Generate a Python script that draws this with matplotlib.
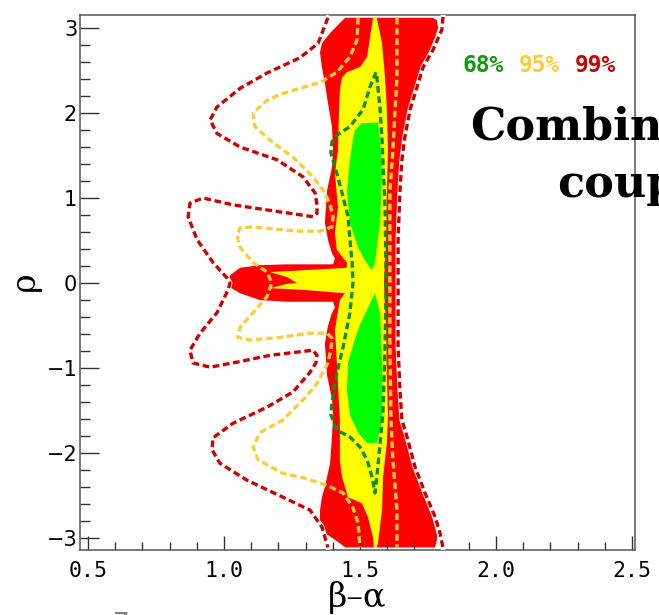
import matplotlib.pyplot as plt
from matplotlib.ticker import MultipleLocator

# contour outlines (beta-alpha, rho)
red_fill_x = [1.445, 1.390, 1.360, 1.353, 1.360, 1.371, 1.382, 1.397, 1.401, 1.397, 1.379, 1.371,
              1.382, 1.397, 1.408, 1.401, 1.232, 1.132, 1.059, 1.022, 1.015, 1.022, 1.059, 1.132,
              1.232, 1.401, 1.408, 1.397, 1.382, 1.371, 1.379, 1.397, 1.401, 1.397, 1.390, 1.371,
              1.360, 1.353, 1.353, 1.371, 1.426, 1.445, 1.776, 1.783, 1.783, 1.765, 1.732, 1.695,
              1.673, 1.654, 1.640, 1.636, 1.636, 1.636, 1.640, 1.647, 1.658, 1.676, 1.695, 1.721,
              1.746, 1.776, 1.787, 1.783, 1.768]
red_fill_y = [3.12, 2.94, 2.82, 2.71, 2.54, 2.35, 2.12, 1.84, 1.56, 1.36, 1.09, 0.71,
              0.51, 0.35, 0.29, 0.22, 0.22, 0.21, 0.18, 0.09, 0.02, -0.05, -0.12, -0.20,
              -0.22, -0.22, -0.29, -0.35, -0.51, -0.71, -1.09, -1.36, -1.56, -1.81, -2.12, -2.40,
              -2.52, -2.67, -2.79, -2.94, -3.06, -3.11, -3.11, -3.02, -2.96, -2.75, -2.47, -2.16,
              -1.81, -1.61, -1.26, -0.75, 0.00, 0.59, 1.09, 1.48, 1.65, 1.92, 2.15, 2.42,
              2.66, 2.89, 3.00, 3.09, 3.12]

yellow_fill_x = [1.548, 1.562, 1.581, 1.592, 1.599, 1.603, 1.599, 1.596, 1.592, 1.588, 1.592, 1.596,
                 1.599, 1.603, 1.599, 1.585, 1.581, 1.566, 1.562, 1.551, 1.548, 1.529, 1.507, 1.456,
                 1.434, 1.426, 1.426, 1.415, 1.408, 1.426, 1.445, 1.290, 1.169, 1.232, 1.268, 1.232,
                 1.169, 1.290, 1.452, 1.452, 1.415, 1.408, 1.419, 1.408, 1.419, 1.423, 1.426, 1.434,
                 1.452, 1.500, 1.526, 1.537]
yellow_fill_y = [3.12, 3.12, 2.82, 2.42, 2.04, 1.56, 1.09, 0.51, 0.25, 0.00, -0.26, -0.51,
                 -1.09, -1.56, -1.88, -2.28, -2.67, -3.06, -3.11, -3.11, -2.99, -2.75, -2.59, -2.52,
                 -2.28, -2.08, -1.61, -0.94, -0.55, -0.20, -0.12, -0.08, -0.06, -0.01, 0.00, 0.07,
                 0.13, 0.15, 0.18, 0.24, 0.39, 0.59, 0.89, 1.29, 1.56, 2.04, 2.27, 2.42,
                 2.48, 2.54, 2.66, 2.89]

green_up_x = [1.482, 1.507, 1.566, 1.574, 1.581, 1.577, 1.574, 1.555, 1.544, 1.518, 1.493, 1.463,
              1.452, 1.463, 1.474]
green_up_y = [1.80, 1.88, 1.89, 1.68, 1.29, 0.98, 0.71, 0.24, 0.15, 0.27, 0.42, 0.71,
              1.09, 1.45, 1.68]
green_lo_x = [1.555, 1.574, 1.581, 1.581, 1.562, 1.526, 1.493, 1.463, 1.452, 1.456, 1.482, 1.500]
green_lo_y = [-0.12, -0.35, -0.94, -1.61, -1.88, -1.88, -1.76, -1.55, -1.26, -0.94, -0.65, -0.49]

c99_left_x = [1.382, 1.346, 1.279, 1.158, 1.059, 0.974, 0.949, 0.974, 1.059, 1.195, 1.290, 1.335,
              1.342, 1.342, 1.327, 1.158, 1.033, 0.923, 0.875, 0.868, 0.901, 0.960, 1.011, 1.022,
              1.015, 0.974, 0.912, 0.875, 0.886, 0.949, 1.048, 1.169, 1.327, 1.342, 1.338, 1.316,
              1.254, 1.158, 1.033, 0.960, 0.956, 0.985, 1.085, 1.217, 1.316, 1.360, 1.382]
c99_left_y = [3.12, 2.82, 2.65, 2.47, 2.29, 2.07, 1.92, 1.76, 1.60, 1.45, 1.25, 1.06,
              0.92, 0.82, 0.78, 0.86, 0.92, 1.00, 0.94, 0.78, 0.51, 0.24, 0.06, 0.00,
              -0.08, -0.35, -0.59, -0.79, -0.94, -0.99, -0.93, -0.85, -0.79, -0.85, -0.94, -1.05,
              -1.28, -1.46, -1.65, -1.82, -1.96, -2.12, -2.32, -2.52, -2.67, -2.87, -3.11]
c99_right_x = [1.805, 1.801, 1.768, 1.732, 1.710, 1.684, 1.665, 1.654, 1.647, 1.640, 1.640, 1.640,
               1.647, 1.654, 1.673, 1.702, 1.739, 1.776, 1.794, 1.805]
c99_right_y = [3.13, 2.98, 2.74, 2.54, 2.31, 2.04, 1.72, 1.45, 1.09, 0.51, 0.00, -0.75,
               -1.26, -1.61, -1.81, -2.16, -2.47, -2.75, -2.94, -3.11]

c95_left_x = [1.493, 1.489, 1.463, 1.415, 1.353, 1.279, 1.206, 1.158, 1.107, 1.114, 1.169, 1.254,
              1.327, 1.371, 1.390, 1.401, 1.397, 1.353, 1.279, 1.169, 1.107, 1.059, 1.048, 1.059,
              1.107, 1.158, 1.176, 1.158, 1.107, 1.059, 1.051, 1.096, 1.206, 1.316, 1.379, 1.397,
              1.393, 1.382, 1.342, 1.298, 1.217, 1.132, 1.107, 1.125, 1.217, 1.290, 1.379, 1.438,
              1.474, 1.493, 1.500]
c95_left_y = [3.12, 2.86, 2.66, 2.48, 2.36, 2.29, 2.22, 2.15, 2.00, 1.84, 1.68, 1.48,
              1.25, 1.06, 0.92, 0.78, 0.66, 0.61, 0.61, 0.64, 0.66, 0.65, 0.56, 0.42,
              0.24, 0.13, 0.00, -0.16, -0.35, -0.52, -0.64, -0.67, -0.64, -0.59, -0.59, -0.65,
              -0.79, -0.94, -1.18, -1.35, -1.61, -1.76, -1.93, -2.08, -2.24, -2.29, -2.38, -2.47,
              -2.64, -2.82, -3.11]
c95_right_x = [1.636, 1.636, 1.629, 1.621, 1.610, 1.610, 1.610, 1.614, 1.621, 1.636, 1.636]
c95_right_y = [3.12, 2.42, 2.04, 1.56, 1.09, 0.00, -0.75, -1.61, -2.08, -2.67, -3.11]

c68_x = [1.559, 1.537, 1.511, 1.463, 1.415, 1.397, 1.393, 1.415, 1.438, 1.456, 1.463, 1.471,
         1.474, 1.463, 1.438, 1.415, 1.397, 1.393, 1.415, 1.463, 1.500, 1.526, 1.544, 1.555,
         1.562, 1.574, 1.585, 1.592, 1.596, 1.592, 1.581, 1.574, 1.562, 1.559]
c68_y = [2.48, 2.31, 2.04, 1.84, 1.74, 1.66, 1.53, 1.29, 1.01, 0.78, 0.51, 0.24,
         0.00, -0.35, -0.75, -1.06, -1.41, -1.55, -1.73, -1.81, -1.93, -2.08, -2.28, -2.47,
         -2.28, -1.88, -1.49, -0.75, 0.00, 0.89, 1.68, 2.04, 2.42, 2.48]

x_ticks = [0.5, 1.0, 1.5, 2.0, 2.5]
x_ticklabels = ["0.5", "1.0", "1.5", "2.0", "2.5"]
y_ticks = [-3, -2, -1, 0, 1, 2, 3]

legend_labels = ["68%", "95%", "99%"]
legend_colors = ["#109a10", "#ffcc33", "#cc0000"]

fig = plt.figure(figsize=(6.59, 6.15), dpi=100)
ax = fig.add_axes([80 / 659, 1 - 550 / 615, 555 / 659, 535 / 615])

ax.fill(red_fill_x, red_fill_y, color="#ff0000", lw=0, zorder=1)
ax.fill(yellow_fill_x, yellow_fill_y, color="#ffff00", lw=0, zorder=2)
ax.fill(green_up_x, green_up_y, color="#00ff00", lw=0, zorder=3)
ax.fill(green_lo_x, green_lo_y, color="#00ff00", lw=0, zorder=3)

dash = (2.0, 1.1)
for xs, ys in [(c99_left_x, c99_left_y), (c99_right_x, c99_right_y)]:
    # white under the dark red so the gaps read light over the fill
    ax.plot(xs, ys, color="white", lw=3.6, zorder=4, solid_joinstyle="round")
    ax.plot(xs, ys, color="#cc0000", lw=2.4, dashes=dash, zorder=5)
for xs, ys in [(c95_left_x, c95_left_y), (c95_right_x, c95_right_y)]:
    ax.plot(xs, ys, color="#ffcc33", lw=2.4, dashes=dash, zorder=6)
ax.plot(c68_x, c68_y, color="#109010", lw=2.4, dashes=dash, zorder=7)

ax.set_xlim(0.4706, 2.511)
ax.set_ylim(-3.14, 3.153)
ax.set_xticks(x_ticks)
ax.set_xticklabels(x_ticklabels, fontfamily="DejaVu Sans Mono", fontsize=15.5)
ax.set_yticks(y_ticks)
ax.set_yticklabels([str(v).replace("-", "\u2212") for v in y_ticks], fontsize=15)
ax.xaxis.set_minor_locator(MultipleLocator(0.1))
ax.yaxis.set_minor_locator(MultipleLocator(0.2))

ax.tick_params(axis="y", which="major", direction="in", length=14, width=1, pad=2, color="#333333")
ax.tick_params(axis="y", which="minor", direction="in", length=7.5, width=1, color="#333333")
ax.tick_params(axis="x", which="major", direction="in", length=10, width=1, pad=8, color="#333333")
ax.tick_params(axis="x", which="minor", direction="in", length=5.5, width=1, color="#333333")
for s in ax.spines.values():
    s.set_color("#555555")
    s.set_linewidth(1.1)

fig.text(357 / 659, 1 - 607 / 615, "\u03b2\u2013\u03b1", ha="center", va="baseline",
         fontsize=24, family="DejaVu Serif")
fig.text(25 / 659, 1 - 281 / 615, "\u03c1", ha="center", va="center", rotation=90,
         fontsize=24, family="DejaVu Serif")

lx = [463, 519, 575]
for lab, col, px in zip(legend_labels, legend_colors, lx):
    fig.text(px / 659, 1 - 72 / 615, lab, color=col, ha="left", va="baseline",
             fontsize=16.5, family="DejaVu Sans Mono", fontweight="bold")

# title runs past the right edge, as in the source image
fig.text(470 / 659, 1 - 140 / 615, "Combined", ha="left", va="baseline",
         fontsize=32, family="DejaVu Serif", fontweight="bold")
fig.text(557 / 659, 1 - 197 / 615, "couplings", ha="left", va="baseline",
         fontsize=32, family="DejaVu Serif", fontweight="bold")
fig.text(121 / 659, 1 - 632 / 615, "7", color="#808080", ha="center", va="baseline",
         fontsize=19)

fig.savefig("out.png", dpi=100)
